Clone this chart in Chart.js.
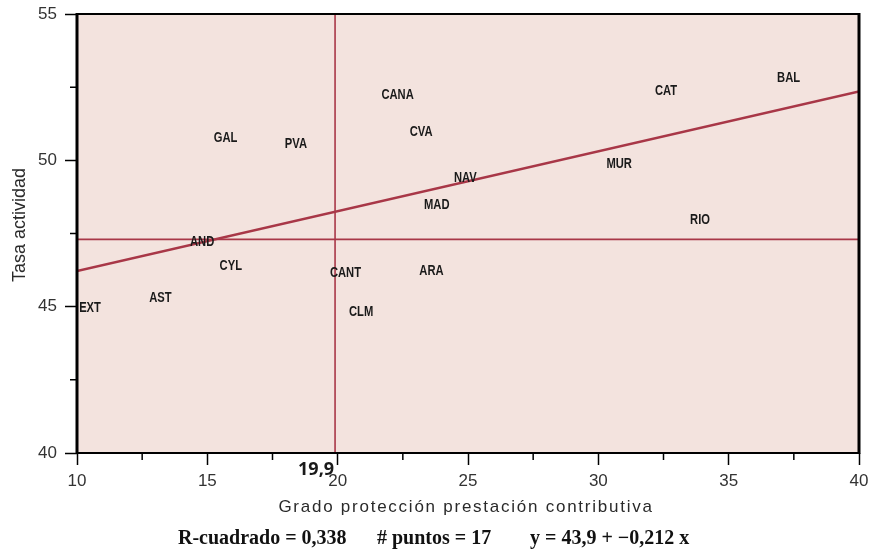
<!DOCTYPE html>
<html><head><meta charset="utf-8">
<script src="https://cdn.jsdelivr.net/npm/chart.js@4.4.1/dist/chart.umd.min.js"></script>
<style>html,body{margin:0;padding:0;background:#fff;}#wrap{width:869px;height:554px;}</style>
</head><body><div id="wrap"><canvas id="c" width="869" height="554"></canvas></div>
<script>
const regions = ['EXT','AST','AND','CYL','GAL','PVA','CANT','CLM','CANA','CVA','ARA','MAD','NAV','MUR','RIO','CAT','BAL'];
const protX = [10.5,13.2,14.8,15.9,15.7,18.4,20.3,20.9,22.3,23.2,23.6,23.8,24.9,30.8,33.9,32.6,37.3];
const tasaY = [44.96,45.3,47.21,46.39,50.76,50.56,46.15,44.82,52.23,50.97,46.22,48.47,49.4,49.88,47.96,52.37,52.81];
const trendX = [10, 40];
const trendY = [46.22, 52.35];
const meanX = 19.9;
const meanY = 47.3;
const xRange = [10, 40];
const yRange = [40, 55];
const xTickStep = 2.5;
const yTickStep = 2.5;
const xTitle = 'Grado protección prestación contributiva';
const yTitle = 'Tasa actividad';
const statsText = ['R-cuadrado = 0,338', '# puntos = 17', 'y = 43,9 + \u22120,212 x'];
const meanXLabel = '19,9';

const RED = '#a83747';
const BG = '#f3e3de';
const SANS = "'Liberation Sans', Arial, sans-serif";

const isMajor = v => Math.abs(v % 5) < 1e-6;

const plotDeco = {
  id: 'plotDeco',
  beforeDatasetsDraw(chart) {
    const {ctx, chartArea: a} = chart;
    ctx.save();
    ctx.fillStyle = BG;
    ctx.fillRect(a.left, a.top, a.right - a.left, a.bottom - a.top);
    ctx.restore();
  },
  afterDatasetsDraw(chart) {
    const {ctx, chartArea: a, scales} = chart;
    const meta = chart.getDatasetMeta(0);
    ctx.save();
    ctx.font = "bold 14px " + SANS;
    ctx.fillStyle = '#1a1a1a';
    ctx.textAlign = 'center';
    ctx.textBaseline = 'middle';
    meta.data.forEach((el, i) => {
      ctx.save();
      ctx.translate(el.x, el.y);
      ctx.scale(0.8, 1);
      ctx.fillText(regions[i], 0, 0);
      ctx.restore();
    });
    // frame
    ctx.strokeStyle = '#000';
    ctx.lineWidth = 2;
    ctx.beginPath();
    ctx.moveTo(a.left, a.top); ctx.lineTo(a.right, a.top);
    ctx.moveTo(a.left, a.bottom); ctx.lineTo(a.right, a.bottom);
    ctx.stroke();
    ctx.lineWidth = 3;
    ctx.beginPath();
    ctx.moveTo(a.left, a.top - 1); ctx.lineTo(a.left, a.bottom + 1);
    ctx.moveTo(a.right, a.top - 1); ctx.lineTo(a.right, a.bottom + 1);
    ctx.stroke();
    // minor ticks
    ctx.lineWidth = 1.5;
    ctx.beginPath();
    for (let v = xRange[0]; v <= xRange[1] + 1e-6; v += xTickStep) {
      if (isMajor(v)) continue;
      const px = scales.x.getPixelForValue(v);
      ctx.moveTo(px, a.bottom); ctx.lineTo(px, a.bottom + 7);
    }
    for (let v = yRange[0]; v <= yRange[1] + 1e-6; v += yTickStep) {
      if (isMajor(v)) continue;
      const py = scales.y.getPixelForValue(v);
      ctx.moveTo(a.left - 7, py); ctx.lineTo(a.left, py);
    }
    ctx.stroke();
    // mean x label
    ctx.font = "bold 18px 'Open Sans', sans-serif";
    ctx.fillStyle = '#1a1a1a';
    ctx.textAlign = 'right';
    ctx.textBaseline = 'middle';
    ctx.fillText(meanXLabel, scales.x.getPixelForValue(meanX) - 1, a.bottom + 17);
    // axis titles
    ctx.fillStyle = '#2a2a2a';
    ctx.font = "17px " + SANS;
    ctx.textAlign = 'center';
    ctx.letterSpacing = '1.75px';
    ctx.fillText(xTitle, 466, 507);
    ctx.letterSpacing = '0px';
    ctx.font = "18px " + SANS;
    ctx.save();
    ctx.translate(20, 225);
    ctx.rotate(-Math.PI / 2);
    ctx.fillText(yTitle, 0, 0);
    ctx.restore();
    // stats
    ctx.font = "bold 20px 'Liberation Serif', serif";
    ctx.textAlign = 'left';
    ctx.textBaseline = 'middle';
    ctx.fillStyle = '#111';
    const xs = [178, 377, 530];
    statsText.forEach((t, i) => ctx.fillText(t, xs[i], 539));
    ctx.restore();
  }
};

new Chart(document.getElementById('c'), {
  type: 'scatter',
  data: {
    datasets: [
      { data: protX.map((x, i) => ({x, y: tasaY[i]})), pointRadius: 0, showLine: false, order: 3 },
      { data: trendX.map((x, i) => ({x, y: trendY[i]})), showLine: true, borderColor: RED, borderWidth: 2.5, pointRadius: 0, order: 1 },
      { data: [{x: meanX, y: yRange[0]}, {x: meanX, y: yRange[1]}], showLine: true, borderColor: RED, borderWidth: 1.6, pointRadius: 0, order: 2 },
      { data: [{x: xRange[0], y: meanY}, {x: xRange[1], y: meanY}], showLine: true, borderColor: RED, borderWidth: 1.6, pointRadius: 0, order: 2 }
    ]
  },
  options: {
    responsive: false,
    animation: false,
    layout: { padding: { top: 14, right: 10, bottom: 31, left: 0 } },
    plugins: { legend: { display: false }, tooltip: { enabled: false } },
    scales: {
      x: {
        type: 'linear', min: xRange[0], max: xRange[1],
        border: { display: false },
        grid: { drawOnChartArea: false, tickLength: 12, tickWidth: 1.5,
          tickColor: c => isMajor(c.tick.value) ? '#000' : 'rgba(0,0,0,0)' },
        ticks: { stepSize: xTickStep, padding: 6, color: '#333', font: { family: SANS, size: 17 },
          callback: v => isMajor(v) ? String(v) : '' , maxRotation: 0, autoSkip: false },
        afterFit: s => { s.height = 70; s.paddingLeft = 0; s.paddingRight = 0; }
      },
      y: {
        type: 'linear', min: yRange[0], max: yRange[1],
        border: { display: false },
        grid: { drawOnChartArea: false, tickLength: 12, tickWidth: 1.5,
          tickColor: c => isMajor(c.tick.value) ? '#000' : 'rgba(0,0,0,0)' },
        ticks: { stepSize: yTickStep, padding: 8, color: '#333', font: { family: SANS, size: 17 },
          callback: v => isMajor(v) ? String(v) : '', autoSkip: false },
        afterFit: s => { s.width = 77; s.paddingTop = 0; s.paddingBottom = 0; }
      }
    }
  },
  plugins: [plotDeco]
});
</script></body></html>
